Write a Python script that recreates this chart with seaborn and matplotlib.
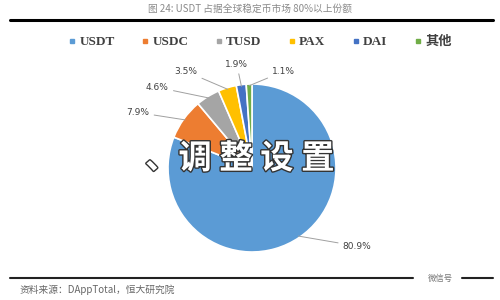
import numpy as np
import matplotlib
matplotlib.use("Agg")
import matplotlib.pyplot as plt
import matplotlib.patheffects as pe
import seaborn as sns

categories = ["USDT", "USDC", "TUSD", "PAX", "DAI", "其他"]
shares = [80.9, 7.9, 4.6, 3.5, 1.9, 1.1]
share_labels = ["80.9%", "7.9%", "4.6%", "3.5%", "1.9%", "1.1%"]
colors = ["#5B9BD5", "#ED7D31", "#A5A5A5", "#FFC000", "#4472C4", "#70AD47"]

sns.set_theme(style="white")
plt.rcParams['font.family'] = ['DejaVu Sans', 'Noto Sans CJK SC']

fig = plt.figure(figsize=(5, 3), dpi=100)
fig.patch.set_facecolor("white")

# pie axes: 1 data unit = 84 px, centre at (252,168) px
u = 84
cx, cy = 252, 168
W, H = 5 * u, 2.8 * u
ax = fig.add_axes([(cx - 2.5 * u) / 500, (300 - cy - 1.4 * u) / 300, W / 500, H / 300])

wedges, _ = ax.pie(shares, colors=colors, startangle=90, counterclock=False,
                   radius=1.0, wedgeprops=dict(edgecolor="white", linewidth=1.2),
                   frame=False)
ax.set_xlim(-2.5, 2.5)
ax.set_ylim(-1.4, 1.4)
ax.set_aspect("equal")
ax.axis("off")

# label placement (style): offsets in data units
label_pos = [(1.08, -0.93, "left"), (-1.22, 0.66, "right"), (-0.99, 0.96, "right"),
             (-0.65, 1.15, "right"), (-0.18, 1.23, "center"), (0.24, 1.15, "left")]
for w, lab, (tx, ty, ha) in zip(wedges, share_labels, label_pos):
    ang = np.deg2rad((w.theta1 + w.theta2) / 2)
    x, y = 0.98 * np.cos(ang), 0.98 * np.sin(ang)
    ax.annotate(lab, xy=(x, y), xytext=(tx, ty), ha=ha, va="center",
                fontsize=6.5, color="#404040", family=["DejaVu Sans"],
                arrowprops=dict(arrowstyle="-", color="#A0A0A0", lw=0.7,
                                shrinkA=1, shrinkB=0))

# watermark overlay text
fig.text(240 / 500, 1 - 159 / 300, "、调 整 设 置", fontsize=24, fontweight="bold",
         color="white", ha="center", va="center", family=["Noto Sans CJK SC"],
         path_effects=[pe.withStroke(linewidth=2, foreground="#333333")])

# legend
handles = [plt.Line2D([], [], marker="s", ls="", color=c, markersize=3.5) for c in colors]
leg = fig.legend(handles, categories, loc="center", bbox_to_anchor=(0.52, 1 - 42 / 300),
                 ncol=6, frameon=False, handlelength=0.6, handletextpad=0.25,
                 columnspacing=2.0,
                 prop=dict(family=["Liberation Serif", "Noto Sans CJK SC"], weight="bold", size=9.5))
for t in leg.get_texts():
    t.set_color("#404040")

# header
fig.text(250 / 500, 1 - 9 / 300, "图 24: USDT 占据全球稳定币市场 80%以上份额", ha="center",
         va="center", fontsize=7, color="#8a8a8a", family=["Noto Sans CJK SC"])
fig.add_artist(plt.Line2D([10 / 500, 493 / 500], [1 - 20 / 300] * 2, color="black", lw=2.2,
                          transform=fig.transFigure))

# footer
fig.add_artist(plt.Line2D([10 / 500, 413 / 500], [1 - 278 / 300] * 2, color="#222222", lw=1.5,
                          transform=fig.transFigure))
fig.add_artist(plt.Line2D([462 / 500, 493 / 500], [1 - 278 / 300] * 2, color="#222222", lw=1.5,
                          transform=fig.transFigure))
fig.text(440 / 500, 1 - 278 / 300, "微信号", ha="center", va="center", fontsize=6,
         color="#777777", family=["Noto Sans CJK SC"])
fig.text(20 / 500, 1 - 290 / 300, "资料来源：DAppTotal，恒大研究院", ha="left", va="center",
         fontsize=7, color="#666666", style="italic", family=["Noto Sans CJK SC"])

fig.savefig("out.png", dpi=100, facecolor="white")
